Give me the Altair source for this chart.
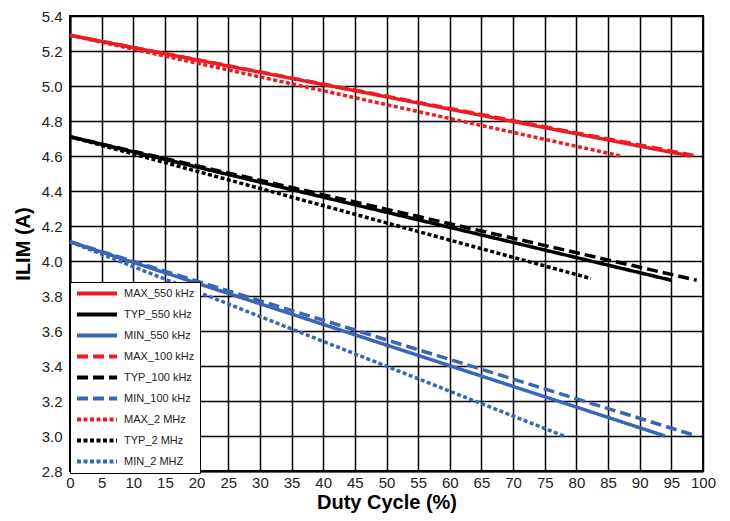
import altair as alt
import pandas as pd

series = ["MAX_550 kHz", "TYP_550 kHz", "MIN_550 kHz",
          "MAX_100 kHz", "TYP_100 kHz", "MIN_100 kHz",
          "MAX_2 MHz", "TYP_2 MHz", "MIN_2 MHZ"]
x_start = [0, 0, 0, 0, 0, 0, 0, 0, 0]
y_start = [5.29, 4.71, 4.11, 5.29, 4.71, 4.11, 5.29, 4.71, 4.11]
x_end = [98.0, 95.0, 94.0, 99.0, 99.0, 99.0, 87.0, 82.3, 78.0]
y_end = [4.60, 3.89, 3.00, 4.60, 3.89, 3.00, 4.60, 3.90, 3.00]
colors = ["#ED1C24", "#000000", "#3A66B5"] * 3
dashes = [[1, 0]] * 3 + [[11, 5]] * 3 + [[4, 2.5]] * 3

rows = []
for i, s in enumerate(series):
    rows.append({"series": s, "duty": x_start[i], "ilim": y_start[i]})
    rows.append({"series": s, "duty": x_end[i], "ilim": y_end[i]})
df = pd.DataFrame(rows)

def make_legend():
    return alt.Legend(title=None, orient="none", legendX=0, legendY=266,
                      symbolType="stroke", symbolSize=1600, clipHeight=13,
                      symbolStrokeWidth=4, labelFontSize=11,
                      labelFont="Liberation Sans", labelColor="#222",
                      fillColor="white", strokeColor="black",
                      padding=5, rowPadding=8, labelLimit=200, labelOffset=5)

chart = alt.Chart(df).mark_line(strokeWidth=3.5).encode(
    x=alt.X("duty:Q", title="Duty Cycle (%)",
            scale=alt.Scale(domain=[0, 100], nice=False),
            axis=alt.Axis(values=list(range(0, 101, 5)), labelFlush=False)),
    y=alt.Y("ilim:Q", title="ILIM (A)",
            scale=alt.Scale(domain=[2.8, 5.4], nice=False, zero=False),
            axis=alt.Axis(values=[round(2.8 + 0.2 * k, 1) for k in range(14)], format=".1f",
                          labelFlush=False)),
    color=alt.Color("series:N", sort=series,
                    scale=alt.Scale(domain=series, range=colors),
                    legend=make_legend()),
    strokeDash=alt.StrokeDash("series:N", sort=series,
                              scale=alt.Scale(domain=series, range=dashes),
                              legend=make_legend()),
    detail="series:N",
).properties(width=633, height=455,
             autosize=alt.AutoSizeParams(type="none"),
             padding={"left": 62, "top": 8, "right": 19, "bottom": 42}).configure_view(
    stroke="black", strokeWidth=2
).configure_axis(
    grid=True, gridColor="black", gridWidth=1.5, gridOpacity=1,
    domainColor="black", domainWidth=2, ticks=False,
    labelFont="Liberation Sans", labelFontSize=15, labelColor="#222",
    titleFont="Liberation Sans", titleFontSize=20, titleFontWeight="bold",
    titleColor="black"
).configure_axisX(labelPadding=4, titlePadding=2).configure_axisY(labelPadding=8, titlePadding=8)

chart.save("out.html", embed_options={"renderer": "svg", "actions": False})
